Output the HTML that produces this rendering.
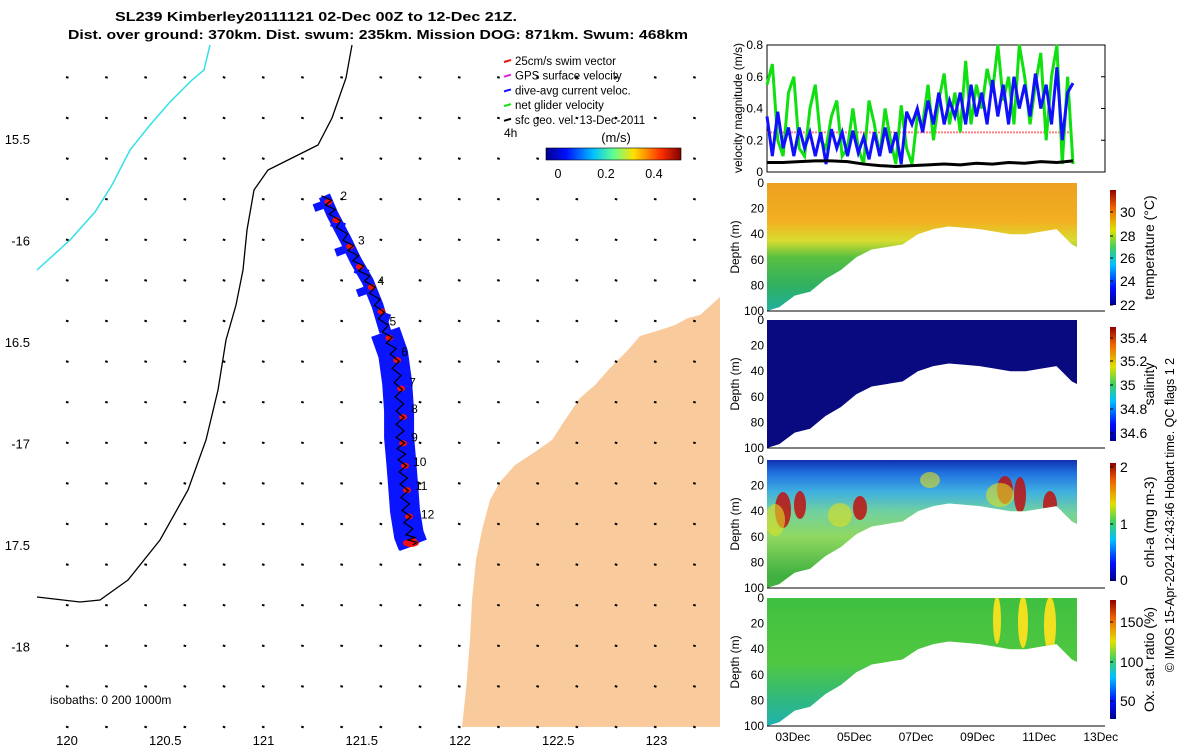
<!DOCTYPE html>
<html><head><meta charset="utf-8"><style>
body{margin:0;background:#fff;width:1200px;height:750px;overflow:hidden;font-family:"Liberation Sans",sans-serif}
svg text{font-family:"Liberation Sans",sans-serif}
</style></head><body>
<svg id="s" width="1200" height="750" viewBox="0 0 1200 750">
<defs>
<linearGradient id="jet" x1="0" x2="1" y1="0" y2="0">
<stop offset="0" stop-color="#00008f"/><stop offset="0.15" stop-color="#0010ff"/><stop offset="0.35" stop-color="#00c0ff"/><stop offset="0.5" stop-color="#60ff90"/><stop offset="0.65" stop-color="#ffe000"/><stop offset="0.85" stop-color="#ff3000"/><stop offset="1" stop-color="#800000"/></linearGradient>
<linearGradient id="jetv" x1="0" x2="0" y1="1" y2="0">
<stop offset="0" stop-color="#00008f"/><stop offset="0.15" stop-color="#0010ff"/><stop offset="0.35" stop-color="#00c0ff"/><stop offset="0.5" stop-color="#40d060"/><stop offset="0.65" stop-color="#e0e000"/><stop offset="0.85" stop-color="#f06000"/><stop offset="1" stop-color="#900000"/></linearGradient>
<linearGradient id="gT" x1="0" x2="0" y1="0" y2="1">
<stop offset="0" stop-color="#eea020"/><stop offset="0.3" stop-color="#f2b020"/><stop offset="0.45" stop-color="#d8dc30"/><stop offset="0.58" stop-color="#58c040"/><stop offset="0.8" stop-color="#30b060"/><stop offset="1" stop-color="#20b0a0"/></linearGradient>
<linearGradient id="gC" x1="0" x2="0" y1="0" y2="1">
<stop offset="0" stop-color="#1030b0"/><stop offset="0.1" stop-color="#2070e0"/><stop offset="0.25" stop-color="#40b0e0"/><stop offset="0.4" stop-color="#70d0a0"/><stop offset="0.6" stop-color="#90d860"/><stop offset="0.9" stop-color="#40b040"/></linearGradient>
<linearGradient id="gO" x1="0" x2="0" y1="0" y2="1">
<stop offset="0" stop-color="#40c040"/><stop offset="0.5" stop-color="#50c840"/><stop offset="0.8" stop-color="#30b880"/><stop offset="1" stop-color="#20b0b0"/></linearGradient>
</defs>
<g id="map"></g>
<g id="right"></g>
</svg>
<script>
const NS="http://www.w3.org/2000/svg";
function mk(p,tag,at,txt){const e=document.createElementNS(NS,tag);for(const k in at)e.setAttribute(k,at[k]);if(txt!==undefined)e.textContent=txt;p.appendChild(e);return e;}
const map=document.getElementById('map'),R=document.getElementById('right');

// ---- data ----
const lonTicks=[120,120.5,121,121.5,122,122.5,123];
const latTicks=[-15.5,-16,-16.5,-17,-17.5,-18];
const trackLon=[121.31,121.35,121.42,121.47,121.53,121.58,121.62,121.66,121.68,121.69,121.69,121.7,121.71,121.72,121.74,121.76];
const trackLat=[-15.78,-15.87,-16.0,-16.1,-16.2,-16.32,-16.45,-16.56,-16.7,-16.84,-16.97,-17.08,-17.2,-17.33,-17.45,-17.5];
const dayLabels=['2','3','4','5','6','7','8','9','10','11','12'];
const dayLon=[121.33,121.42,121.52,121.58,121.64,121.68,121.69,121.69,121.7,121.71,121.74];
const dayLat=[-15.78,-16.0,-16.2,-16.4,-16.55,-16.7,-16.83,-16.97,-17.09,-17.21,-17.35];
const vNet=[0.55,0.68,0.2,0.1,0.5,0.6,0.15,0.1,0.4,0.55,0.2,0.15,0.35,0.45,0.1,0.15,0.4,0.15,0.05,0.45,0.3,0.1,0.4,0.2,0.05,0.42,0.15,0.05,0.35,0.3,0.55,0.2,0.45,0.62,0.3,0.5,0.25,0.7,0.3,0.55,0.4,0.65,0.5,0.8,0.45,0.6,0.3,0.8,0.6,0.3,0.55,0.75,0.2,0.6,0.8,0.05,0.6,0.05];
const vCur=[0.35,0.1,0.38,0.15,0.28,0.1,0.28,0.15,0.25,0.1,0.25,0.05,0.27,0.15,0.25,0.1,0.26,0.12,0.22,0.08,0.25,0.1,0.28,0.12,0.25,0.05,0.38,0.3,0.4,0.25,0.45,0.3,0.5,0.3,0.45,0.35,0.5,0.3,0.55,0.35,0.5,0.3,0.58,0.35,0.55,0.3,0.6,0.4,0.55,0.35,0.62,0.4,0.55,0.3,0.66,0.2,0.5,0.56];
const vSfc=[0.06,0.06,0.065,0.07,0.07,0.065,0.05,0.04,0.035,0.04,0.045,0.05,0.045,0.055,0.05,0.06,0.055,0.065,0.06,0.07];
const vSwim=0.25;
const profDays=[2.1,2.5,3.0,3.5,4.0,4.5,5.0,5.5,6.0,6.5,7.0,7.5,8.0,8.5,9.0,9.5,10.0,10.5,11.0,11.5,12.0,12.5,12.9];
const profBottom=[100,97,88,85,75,68,58,52,50,48,40,36,34,35,36,38,40,40,38,36,48,54,53];
const timeTicks=['03Dec','05Dec','07Dec','09Dec','11Dec','13Dec'];
const timeTickDays=[3,5,7,9,11,13];

const X=lon=>67+(lon-120)*196.5, Y=lat=>139+(-15.5-lat)*203;

mk(map,'path',{d:'M720,297 L700,315 L688,318 L675,325 L660,330 L640,336 L628,350 L610,368 L595,385 L580,398 L565,420 L552,440 L535,452 L515,465 L500,482 L490,500 L482,530 L476,560 L472,600 L470,640 L466,690 L462,727 L720,727 Z',fill:'#f9cb9c'});
mk(map,'polyline',{points:'352,45 346,78 332,118 318,145 292,158 268,170 254,190 247,230 243,270 236,305 226,340 218,390 206,440 188,490 160,540 128,580 100,600 80,602 37,597',fill:'none',stroke:'#000','stroke-width':1.3});
mk(map,'polyline',{points:'210,45 204,70 192,80 170,102 150,125 130,150 112,185 95,212 70,240 37,270',fill:'none',stroke:'#33e0e8','stroke-width':1.5});
for(let gx=67;gx<720;gx+=39.2)for(let gy=77;gy<727;gy+=40.6){const d=mk(map,'path',{d:`M${gx-1},${gy} l2.5,0.8`,stroke:'#000','stroke-width':2});}
const bandTop=mk(map,'polyline',{points:trackLon.slice(0,7).map((l,i)=>X(l)+','+Y(trackLat[i])).join(' '),fill:'none',stroke:'#0a14ff','stroke-width':12});

const bandBot=mk(map,'polyline',{points:trackLon.slice(6).map((l,i)=>X(l)+','+Y(trackLat[i+6])).join(' '),fill:'none',stroke:'#0a14ff','stroke-width':30});

for(let i=0;i<trackLon.length-1;i++){const x=X(trackLon[i]),y=Y(trackLat[i]);
 const j=mk(map,'rect',{x:x+(i%2?2:-14),y:y+4,width:14,height:8,fill:'#0a14ff',transform:`rotate(${i%2?20:-20} ${x} ${y})`});
 const c=mk(map,'ellipse',{cx:x+4,cy:y+6,rx:4,ry:3,fill:'#f01010'});}
mk(map,'ellipse',{cx:X(121.75),cy:Y(-17.49),rx:8,ry:4,fill:'#f01010'});
let wp=[];for(let i=0;i<trackLon.length-1;i++){const x0=X(trackLon[i]),y0=Y(trackLat[i]),x1=X(trackLon[i+1]),y1=Y(trackLat[i+1]);for(let k=0;k<4;k++){const t=k/4;wp.push((x0+(x1-x0)*t+(k%2?5:-3))+','+(y0+(y1-y0)*t));}}
wp.push(X(trackLon[15])+','+Y(trackLat[15]));
mk(map,'polyline',{points:wp.join(' '),fill:'none',stroke:'#000','stroke-width':1.2});
dayLabels.forEach((t,i)=>{const e=mk(map,'text',{x:X(dayLon[i])+12,y:Y(dayLat[i])+4,'font-size':12},t);});
lonTicks.forEach(l=>{const e=mk(map,'text',{x:X(l),y:745,'font-size':13,'text-anchor':'middle'},String(l));});
latTicks.forEach(l=>{const e=mk(map,'text',{x:30,y:Y(l)+5,'font-size':13,'text-anchor':'end'},(l===-16||l===-17||l===-18)?String(l):String(-l));});
mk(map,'text',{x:50,y:704,'font-size':12},'isobaths: 0   200   1000m');
mk(map,'text',{x:115,y:21,'font-size':13,'font-weight':'bold',textLength:402,lengthAdjust:'spacingAndGlyphs'},'SL239 Kimberley20111121 02-Dec 00Z to 12-Dec 21Z.');
mk(map,'text',{x:68,y:39,'font-size':13,'font-weight':'bold',textLength:620,lengthAdjust:'spacingAndGlyphs'},'Dist. over ground: 370km. Dist. swum: 235km. Mission DOG: 871km. Swum: 468km');
const leg=[['25cm/s swim vector','#f01010'],['GPS surface velocity','#e020e0'],['dive-avg current veloc.','#1010ff'],['net glider velocity','#10e010'],['sfc geo. vel. 13-Dec-2011','#000']];
leg.forEach((l,i)=>{const y=64+i*14.7;const g=mk(map,'g',{});mk(g,'line',{x1:504,x2:511,y1:y-2,y2:y-4,stroke:l[1],'stroke-width':2});mk(g,'text',{x:515,y:y+1,'font-size':11.5},l[0]);});
mk(map,'text',{x:504,y:137,'font-size':12},'4h');
mk(map,'text',{x:616,y:142,'font-size':13,'text-anchor':'middle'},'(m/s)');
mk(map,'rect',{x:546,y:148,width:135,height:12,fill:'url(#jet)',stroke:'#000','stroke-width':0.6});
[['0',558],['0.2',606],['0.4',654]].forEach(t=>mk(map,'text',{x:t[1],y:178,'font-size':12.5,'text-anchor':'middle'},t[0]));

const vx0=767,vx1=1073,vy=v=>172-v*158.75;
mk(R,'rect',{x:767,y:45,width:338,height:127,fill:'none',stroke:'#000','stroke-width':1});
[0,0.2,0.4,0.6,0.8].forEach(v=>{mk(R,'text',{x:763,y:vy(v)+4,'font-size':12,'text-anchor':'end'},String(v));mk(R,'line',{x1:1101,x2:1105,y1:vy(v),y2:vy(v),stroke:'#000'});});
mk(R,'text',{x:0,y:0,'font-size':12,'text-anchor':'middle',transform:'translate(742,108) rotate(-90)'},'velocity magnitude (m/s)');
function series(arr,col,w,name,dash){const p=arr.map((v,i)=>(vx0+(vx1-vx0)*i/(arr.length-1))+','+vy(v)).join(' ');const e=mk(R,'polyline',{points:p,fill:'none',stroke:col,'stroke-width':w});if(dash)e.setAttribute('stroke-dasharray',dash);}
series([vSwim,vSwim],'#ff8080',2,'swim-speed-line','2 1');
series(vNet,'#10e010',3,'net-glider-velocity');
series(vCur,'#1010ff',3,'current-velocity');
series(vSfc,'#000',3,'surface-geo-velocity');

const dx=d=>767+(d-2.1)*30.8;
const panels=[{top:183,fill:'url(#gT)',name:'temperature',lab:'temperature (°C)',ticks:[['30',212],['28',236],['26',258],['24',281],['22',305]],cb:[190,305]},
{top:320,fill:'#0a0a80',name:'salinity',lab:'salinity',ticks:[['35.4',338],['35.2',361],['35',385],['34.8',409],['34.6',433]],cb:[327,441]},
{top:460,fill:'url(#gC)',name:'chl-a',lab:'chl-a (mg m-3)',ticks:[['2',467],['1',524],['0',580]],cb:[463,581]},
{top:598,fill:'url(#gO)',name:'oxygen',lab:'Ox. sat. ratio (%)',ticks:[['150',622],['100',662],['50',701]],cb:[600,719]}];
panels.forEach((P,pi)=>{
 const h=128,dy=d=>P.top+d*h/100;
 const g=mk(R,'g',{});
 let d='M'+dx(profDays[0])+','+dy(0);
 profDays.forEach((t,i)=>{d+=' L'+dx(t)+','+dy(profBottom[i]);});
 d+=' L'+dx(profDays[profDays.length-1])+','+dy(0)+' Z';
 const pid='cp'+pi;const cp=mk(R,'clipPath',{id:pid});mk(cp,'path',{d:d});
 mk(g,'rect',{x:767,y:P.top,width:310,height:h,fill:P.fill,'clip-path':`url(#${pid})`});
 if(pi===2){[[783,510,8,18],[800,505,6,14],[860,508,7,12],[1005,490,8,14],[1020,495,6,18],[1050,505,7,14]].forEach(e=>mk(g,'ellipse',{cx:e[0],cy:e[1],rx:e[2],ry:e[3],fill:'#c01010',opacity:0.85,'clip-path':`url(#${pid})`}));
   [[775,520,10,16],[840,515,12,12],[930,480,10,8],[1000,495,14,12]].forEach(e=>mk(g,'ellipse',{cx:e[0],cy:e[1],rx:e[2],ry:e[3],fill:'#e0e020',opacity:0.6,'clip-path':`url(#${pid})`}));}
 if(pi===3){[[997,620,4,24],[1023,622,5,26],[1050,625,6,28]].forEach(e=>mk(g,'ellipse',{cx:e[0],cy:e[1],rx:e[2],ry:e[3],fill:'#f0e020','clip-path':`url(#${pid})`}));}
 mk(R,'line',{x1:767,x2:1105,y1:P.top+h,y2:P.top+h,stroke:'#000'});
 [0,20,40,60,80,100].forEach(v=>mk(R,'text',{x:764,y:dy(v)+4,'font-size':12,'text-anchor':'end'},String(v)));
 mk(R,'text',{x:0,y:0,'font-size':12,'text-anchor':'middle',transform:`translate(739,${P.top+64}) rotate(-90)`},'Depth (m)');
 const cbr=mk(R,'rect',{x:1110,y:P.cb[0],width:6,height:P.cb[1]-P.cb[0],fill:'url(#jetv)'});
 P.ticks.forEach(t=>{mk(R,'text',{x:1120,y:t[1]+5,'font-size':14},t[0]);mk(R,'line',{x1:1110,x2:1113,y1:t[1],y2:t[1],stroke:'#000'});});
 mk(R,'text',{x:0,y:0,'font-size':14,'text-anchor':'middle',transform:`translate(1154,${(P.cb[0]+P.cb[1])/2}) rotate(-90)`},P.lab);
});
timeTicks.forEach((t,i)=>{const e=mk(R,'text',{x:dx(timeTickDays[i])-2,y:741,'font-size':12,'text-anchor':'middle'},t);});
mk(R,'text',{x:0,y:0,'font-size':12.5,'text-anchor':'middle',transform:'translate(1174,515) rotate(-90)'},'© IMOS 15-Apr-2024 12:43:46 Hobart time. QC flags 1  2');
</script>
</body></html>
